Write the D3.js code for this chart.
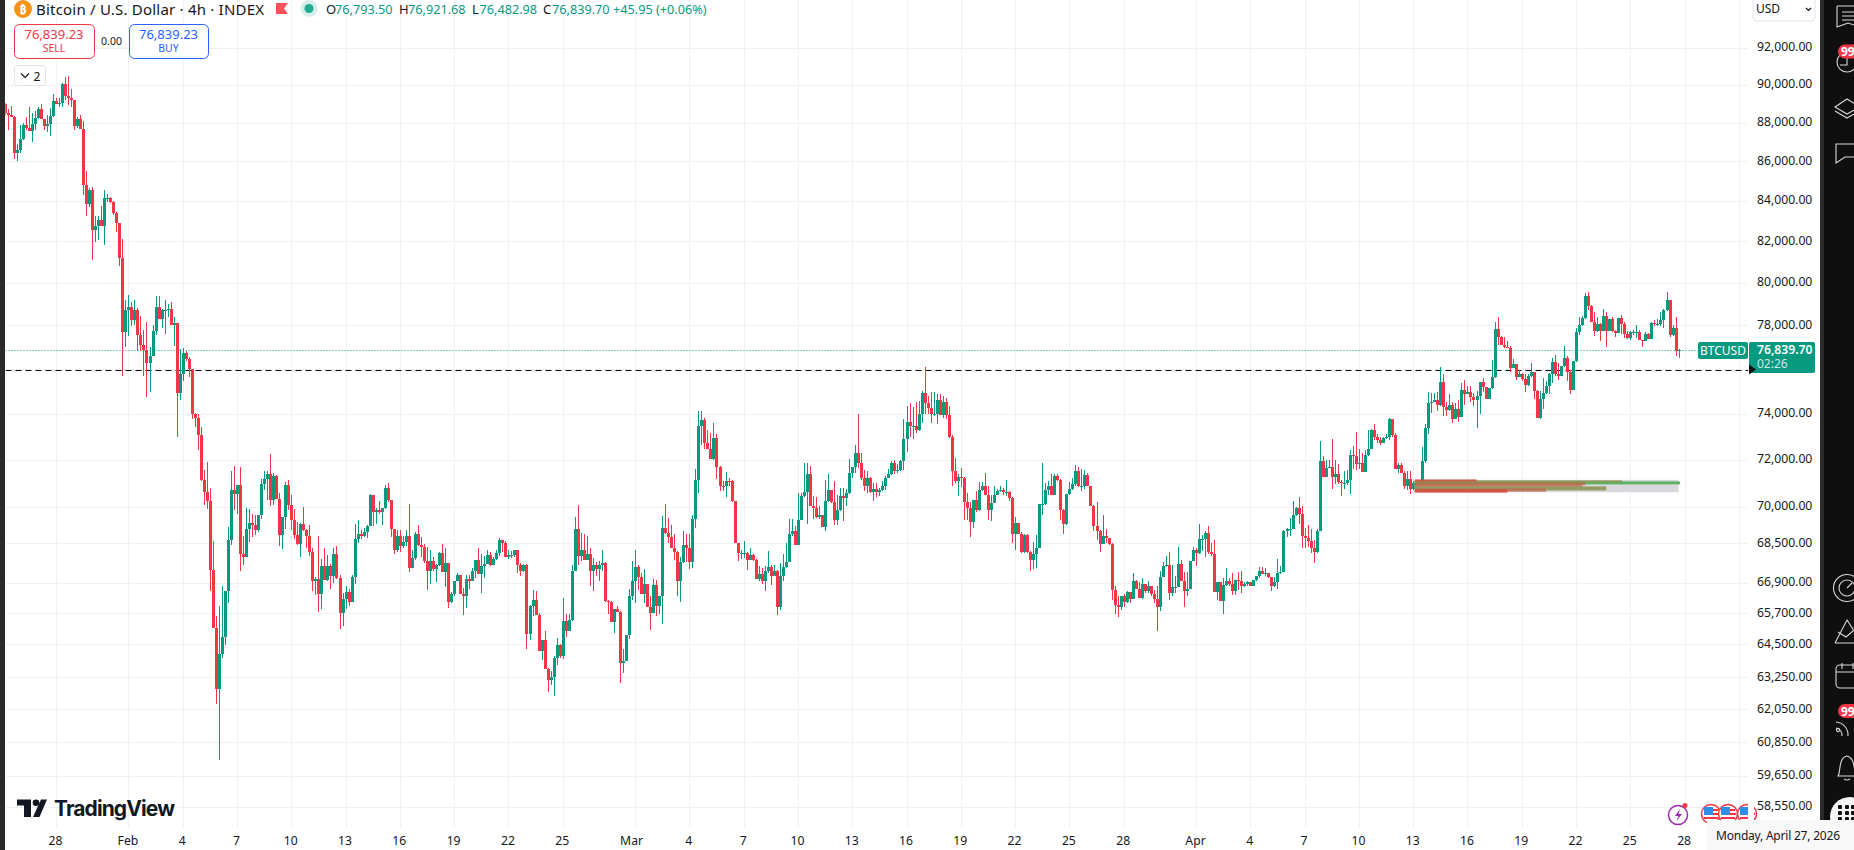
<!DOCTYPE html>
<html><head><meta charset="utf-8">
<script src="https://cdnjs.cloudflare.com/ajax/libs/d3/7.8.5/d3.min.js"></script>
<style>html,body{margin:0;padding:0;background:#fff;overflow:hidden}svg{display:block}text{font-family:"Noto Sans",sans-serif}</style>
</head><body><svg id="c" width="1854" height="850"></svg>
<script>
// ---- data: 4h bars, prices in thousands of USD; each bar opens at the previous close ----
const firstBar = "2026-01-25T04:00:00Z";
const firstOpenK = 89.0;
const closeK = [
88.5,88.4,88.3,86.4,86.6,87.17,87.9,87.7,87.55,87.95,
88.27,88.7,88.18,87.85,87.95,88.34,89.14,89.0,89.05,90.04,
89.4,89.3,89.2,87.85,88.2,87.68,84.8,83.85,84.55,82.55,
82.75,83.05,82.77,84.15,84.15,83.92,83.38,82.9,81.2,77.67,
78.73,78.85,78.25,78.73,77.53,77.1,76.87,76.25,76.6,77.75,
78.85,78.28,78.7,78.73,78.77,78.0,78.1,74.9,75.75,76.7,
76.45,76.0,74.0,73.8,73.05,71.15,70.62,70.24,67.41,65.15,
62.82,64.13,64.8,66.6,68.64,70.73,70.56,70.94,68.07,67.93,
69.1,69.33,69.26,69.06,69.68,70.97,71.18,71.4,70.3,71.32,
70.33,68.85,69.58,70.94,70.1,69.47,68.85,68.47,69.3,69.03,
68.8,68.13,67.0,67.07,66.47,67.6,67.03,67.6,67.17,68.07,
67.1,65.73,66.27,66.54,66.17,67.14,68.68,68.9,68.8,68.95,
69.22,70.52,69.78,69.86,69.78,69.96,70.8,70.28,69.09,68.23,
68.8,68.4,68.54,68.8,67.51,67.9,68.87,68.43,68.37,67.8,
67.37,67.78,67.45,67.62,68.1,67.35,67.7,66.17,66.47,66.99,
67.23,66.47,66.37,67.07,66.97,67.4,67.83,67.27,67.6,67.68,
68.03,67.63,67.86,68.1,68.64,68.5,67.94,68.03,68.03,68.23,
67.63,67.39,67.63,64.9,66.0,66.23,65.63,64.25,64.67,63.57,
63.15,63.25,64.0,64.47,64.07,65.4,65.03,65.44,67.4,69.1,
68.0,68.23,67.83,68.05,67.39,67.63,67.47,67.63,67.7,66.2,
66.17,65.38,65.87,65.77,63.8,63.87,64.87,66.4,67.0,67.54,
67.14,66.47,66.87,65.97,65.73,66.83,66.0,66.4,69.12,68.92,
68.78,68.33,68.17,67.0,67.74,68.43,68.33,67.74,69.5,71.15,
73.47,73.7,72.7,72.47,72.05,72.95,71.7,70.9,70.88,71.1,
71.08,70.25,68.5,68.1,68.1,68.1,67.84,68.03,67.84,67.07,
67.27,67.0,67.37,67.54,67.2,67.37,65.97,67.2,67.54,67.74,
68.87,69.0,68.42,69.47,70.45,70.63,71.4,70.03,69.95,69.57,
69.68,69.17,70.27,70.7,70.2,69.45,69.87,70.48,70.37,70.57,
71.45,71.7,72.27,71.87,71.2,70.9,71.2,70.62,70.77,70.62,
70.7,70.9,71.23,71.37,71.87,71.5,71.57,71.95,72.9,73.63,
73.46,73.46,73.27,74.0,74.9,74.45,74.25,73.97,73.97,74.6,
73.95,74.5,73.93,73.0,71.5,71.1,71.27,71.23,70.2,69.95,
69.37,70.3,69.87,70.73,70.9,70.52,69.87,70.17,70.52,70.67,
70.73,70.63,70.63,70.37,68.9,69.33,68.9,68.17,68.83,68.17,
67.83,68.07,68.33,70.13,70.13,70.7,70.9,70.52,71.3,71.15,
69.87,69.3,70.55,70.77,70.95,71.5,70.88,70.9,71.33,70.88,
70.05,69.23,69.0,68.47,68.8,68.7,68.47,66.63,66.03,65.97,
66.37,66.17,66.53,66.27,67.0,66.67,66.3,66.87,66.57,66.8,
66.47,66.27,65.97,67.13,67.6,67.63,66.5,66.75,66.75,67.67,
66.97,66.6,66.67,67.8,68.23,68.1,68.67,68.67,68.93,68.13,
68.07,66.55,66.93,66.2,66.83,66.97,66.87,66.57,67.03,67.0,
66.8,66.87,66.95,66.8,67.03,67.17,67.4,67.27,67.3,67.13,
66.77,66.95,67.3,67.35,69.0,69.07,69.07,69.65,69.97,69.7,
68.8,68.73,68.6,68.33,68.13,69.0,71.93,71.28,71.65,71.7,
71.28,71.37,71.07,71.0,71.0,71.15,72.2,72.15,71.8,71.87,
71.47,72.2,72.47,73.3,72.97,72.87,72.73,72.95,73.0,73.75,
73.07,71.6,71.77,71.45,70.9,71.16,70.74,71.02,70.76,70.95,
71.93,73.39,74.45,74.52,74.6,74.4,75.4,74.3,74.15,74.4,
73.78,74.22,73.85,75.05,74.85,74.95,74.75,74.6,74.8,75.4,
75.2,74.65,75.13,75.62,77.83,77.45,77.07,77.0,76.97,76.06,
76.2,75.65,75.75,75.53,75.26,75.66,75.88,75.0,73.8,74.65,
74.9,75.23,75.78,76.3,75.75,75.7,76.12,76.5,75.87,75.05,
76.35,77.7,78.0,78.35,79.35,78.9,78.17,77.75,78.05,77.72,
78.45,77.72,78.3,77.75,77.65,78.32,78.05,77.6,77.4,77.68,
77.7,77.7,77.32,77.25,77.6,77.35,78.1,78.05,78.05,78.25,
78.7,79.2,77.55,77.85,76.8,76.84];
const highK = [
89.05,88.7,88.9,88.35,86.9,87.86,88.0,88.3,88.85,88.5,
88.6,88.85,88.96,88.2,88.4,88.77,89.5,89.3,89.3,90.12,
90.4,90.5,89.8,89.2,88.3,88.4,88.1,85.5,84.65,84.7,
83.25,83.25,83.75,84.55,84.35,84.2,84.0,83.45,82.9,82.1,
79.2,79.4,79.1,79.2,78.8,78.43,77.8,78.13,77.0,78.0,
79.35,79.35,78.75,79.2,79.0,79.1,78.4,78.1,76.9,76.95,
76.8,76.55,76.0,74.05,74.0,73.4,71.57,71.9,70.8,68.6,
65.6,66.0,66.8,66.6,69.17,71.5,71.74,70.94,71.69,68.8,
69.96,69.9,69.72,69.65,69.68,71.18,71.53,71.53,72.26,71.44,
71.36,70.6,69.58,71.05,71.13,70.5,69.9,69.37,69.33,70.0,
69.1,69.26,68.3,67.13,68.8,67.87,68.33,68.03,67.67,68.3,
68.4,67.23,66.5,66.8,66.67,67.23,69.3,69.47,69.05,69.14,
69.26,70.56,70.52,69.96,70.27,69.96,70.94,71.0,70.3,69.1,
69.05,69.05,68.8,69.05,70.14,68.23,68.95,69.26,68.78,68.47,
68.37,68.23,67.93,67.66,68.17,68.47,68.33,67.7,66.53,67.0,
67.3,67.23,66.7,67.23,67.23,67.5,67.83,68.33,68.07,68.0,
68.23,68.13,67.94,68.23,68.7,68.64,68.6,68.23,68.2,68.23,
68.23,67.7,67.66,67.66,66.03,66.63,66.57,65.7,64.67,65.03,
63.6,63.47,64.05,64.75,64.5,66.3,65.67,65.67,67.63,69.6,
70.1,68.92,68.9,68.8,68.3,67.9,67.76,67.8,68.23,67.73,
66.23,66.2,65.87,66.0,65.8,64.32,64.87,66.67,67.8,68.23,
67.63,67.3,67.47,66.87,66.4,67.07,67.03,66.4,69.63,70.14,
69.53,69.26,68.9,68.2,67.94,69.0,68.87,68.9,69.68,71.6,
74.1,74.1,73.8,73.3,73.15,73.6,73.1,71.75,71.1,71.47,
71.2,71.13,70.25,68.5,68.25,68.6,68.15,68.3,68.07,67.87,
67.57,67.5,67.57,68.2,67.63,67.63,67.43,67.7,68.07,68.5,
69.5,69.5,69.2,70.6,70.6,71.85,71.85,71.75,70.45,70.4,
70.03,69.68,71.12,71.4,70.7,71.1,70.5,70.8,70.8,70.75,
72.05,71.7,72.65,73.97,72.3,71.57,71.5,71.25,71.0,71.0,
70.8,71.1,71.3,71.6,71.95,72.0,71.8,72.0,73.75,74.35,
74.47,74.3,74.5,74.55,75.0,76.1,74.8,74.95,74.95,74.85,
74.85,74.8,74.7,74.35,73.05,72.06,71.4,71.65,71.27,70.6,
70.2,70.3,70.65,71.05,71.05,71.45,70.9,70.52,70.9,70.75,
70.9,70.8,71.12,70.65,70.4,69.6,69.33,68.97,68.87,68.87,
68.2,68.57,68.83,70.13,71.85,71.0,71.1,71.4,71.4,71.4,
71.17,69.9,70.55,71.05,71.2,71.78,71.7,71.6,71.55,71.45,
70.9,70.1,70.2,69.03,69.65,69.1,68.73,68.5,66.77,66.4,
66.37,66.47,66.57,66.55,67.3,67.03,66.95,67.1,66.87,66.97,
66.8,66.63,66.8,67.4,67.74,68.0,68.15,67.63,67.2,68.37,
67.83,67.33,67.35,67.8,68.37,68.3,69.3,68.84,69.0,69.2,
68.5,68.63,66.93,66.93,67.1,67.5,67.1,67.3,67.03,67.33,
67.37,66.93,67.0,66.95,67.03,67.2,67.55,67.53,67.5,67.3,
67.15,67.15,67.85,67.6,69.03,69.15,69.55,70.25,70.0,70.4,
70.03,69.13,69.27,69.1,68.63,69.07,72.8,72.15,71.97,72.0,
72.9,72.0,71.8,71.13,71.5,71.55,72.4,72.57,73.2,72.45,
72.3,72.4,73.3,73.33,73.53,73.13,72.97,73.0,73.1,73.83,
73.75,73.17,71.85,71.85,71.52,71.52,71.52,71.1,71.0,70.99,
72.55,73.54,74.95,74.9,74.9,74.98,76.1,75.75,74.5,74.85,
74.5,74.45,74.6,75.35,75.5,75.25,75.25,74.9,75.0,75.43,
75.6,75.2,75.13,76.4,78.13,78.37,77.5,77.45,77.25,77.03,
76.43,76.2,75.93,75.83,75.75,75.75,76.27,75.88,75.03,75.0,
75.6,75.45,75.82,76.5,76.63,76.27,76.15,77.05,76.6,75.95,
76.35,77.85,78.4,78.43,79.5,79.55,78.95,78.6,78.37,78.1,
78.75,78.6,78.3,78.4,77.8,78.32,78.5,78.13,77.75,77.75,
77.8,78.0,77.8,77.32,77.68,77.65,78.13,78.25,78.27,78.6,
78.75,79.55,79.2,78.0,78.4,76.92];
const lowK = [
88.4,87.6,88.3,86.1,86.0,86.45,87.1,87.6,87.55,87.0,
87.6,88.2,88.18,87.6,87.5,87.3,88.3,89.0,88.8,88.8,
89.2,88.95,88.8,87.6,87.7,87.68,84.3,83.25,83.7,81.1,
81.97,82.05,82.77,81.8,83.95,83.9,83.3,82.45,80.8,75.68,
77.0,77.5,77.95,78.0,76.8,76.8,75.7,74.75,74.95,76.6,
77.55,78.28,77.87,77.6,78.4,78.0,77.05,73.0,74.6,75.45,
76.35,75.65,73.75,73.4,72.4,71.1,70.1,69.9,66.6,65.15,
62.25,60.21,63.97,64.47,66.1,68.43,69.86,69.7,67.37,67.63,
67.93,68.57,68.78,68.86,68.96,69.5,70.7,70.28,70.03,70.07,
70.33,68.4,68.27,69.1,69.86,69.05,68.68,68.43,67.93,69.0,
68.3,67.97,66.57,66.43,65.77,65.87,67.03,67.0,66.67,66.9,
67.06,65.1,65.2,65.87,66.0,66.17,66.87,68.53,68.67,68.77,
68.72,69.2,69.22,69.3,69.7,69.26,69.9,70.2,68.78,68.07,
68.13,68.17,68.33,68.4,67.33,67.51,67.83,68.4,67.93,67.7,
66.63,66.87,67.4,66.93,67.57,67.35,66.73,65.9,66.13,66.37,
66.97,66.47,65.64,65.9,66.67,66.97,67.1,67.27,66.5,67.1,
67.65,67.57,67.63,67.83,67.97,68.13,67.94,67.86,67.9,67.96,
67.3,67.2,67.36,64.32,64.68,65.6,65.63,64.25,63.9,63.57,
62.7,62.96,62.55,63.72,63.97,63.95,64.8,65.0,65.4,67.37,
67.63,67.77,67.83,67.83,66.8,66.57,67.2,67.0,67.37,66.17,
65.67,65.38,64.95,65.77,63.05,63.42,63.87,64.7,66.23,66.1,
66.63,66.47,66.13,65.97,65.07,65.7,65.6,65.67,65.3,68.9,
68.5,68.33,67.83,66.37,66.17,67.7,67.74,67.47,67.5,69.15,
70.6,72.65,72.47,72.45,72.05,72.0,71.17,70.67,70.67,70.43,
70.9,70.2,68.5,67.77,67.85,67.9,67.43,67.84,67.77,67.05,
66.97,66.87,66.57,67.3,66.83,67.17,65.63,65.83,66.97,67.5,
67.73,68.8,68.42,68.42,69.44,70.43,69.3,70.03,69.5,69.53,
69.5,69.17,69.0,70.22,70.15,69.27,69.27,69.83,69.4,70.05,
70.53,71.2,71.45,71.65,71.15,70.67,70.6,70.6,70.27,70.4,
70.45,70.68,70.7,71.2,71.33,71.4,71.45,71.5,71.55,72.33,
73.0,72.9,73.15,73.25,73.6,74.0,74.0,73.6,73.9,73.55,
73.95,73.8,73.75,72.95,70.9,71.0,70.47,70.85,69.47,69.47,
68.75,69.13,69.8,69.83,70.67,70.5,69.47,69.4,70.15,70.5,
70.63,70.5,70.45,70.25,68.5,68.25,68.9,68.1,68.1,68.1,
67.37,67.47,67.5,68.3,69.67,70.1,70.5,70.5,70.5,71.1,
69.47,68.87,69.27,70.52,70.73,70.9,70.85,70.67,70.77,70.88,
70.05,69.0,68.62,68.13,68.47,68.5,68.43,66.23,65.67,65.55,
65.83,65.95,66.12,66.13,66.25,66.67,66.3,66.27,66.5,66.5,
66.37,66.1,65.0,65.8,67.25,67.55,66.23,66.4,66.5,66.75,
66.97,65.97,66.4,66.67,67.77,67.57,68.07,68.2,67.93,68.07,
68.0,66.55,66.23,66.2,65.67,66.77,66.77,66.43,66.43,66.63,
66.5,66.73,66.8,66.8,66.8,67.0,67.1,67.27,67.2,67.1,
66.6,66.73,66.66,67.25,67.33,68.77,68.8,69.07,69.63,69.3,
68.3,68.3,68.37,68.1,67.7,68.1,69.0,71.25,71.28,71.63,
70.75,70.97,70.97,70.47,70.75,70.93,70.55,71.6,71.57,71.6,
71.47,71.47,72.15,72.47,72.85,72.73,72.65,72.7,72.9,72.87,
73.0,71.6,71.42,71.42,70.75,70.73,70.55,70.72,70.64,70.7,
70.76,71.84,73.1,74.05,74.5,74.1,74.35,73.9,73.9,74.1,
73.57,73.75,73.65,73.85,74.4,74.85,74.53,74.35,73.35,74.0,
74.95,74.63,74.63,75.1,75.6,77.07,77.07,76.93,76.93,75.85,
76.05,75.5,75.65,75.47,74.96,75.22,75.63,74.67,73.8,73.78,
74.2,74.87,74.85,75.37,75.68,75.5,75.68,76.08,75.47,74.87,
75.05,76.33,77.55,77.95,78.3,78.7,78.17,77.5,77.7,77.27,
77.72,77.0,77.72,77.7,77.45,77.62,77.6,77.42,77.35,77.32,
77.55,77.42,77.3,77.0,77.25,77.35,77.35,77.95,77.95,77.95,
77.85,78.67,77.47,77.5,76.58,76.48];

const gridPrices = [92000,90000,88000,86000,84000,82000,80000,78000,76000,74000,72000,70000,68500,66900,65700,64500,63250,62050,60850,59650,58550];
const priceTicks = [92000,90000,88000,86000,84000,82000,80000,78000,74000,72000,70000,68500,66900,65700,64500,63250,62050,60850,59650,58550];
const timeTicks = ["2026-01-28","2026-02-01","2026-02-04","2026-02-07","2026-02-10","2026-02-13","2026-02-16","2026-02-19","2026-02-22","2026-02-25","2026-03-01","2026-03-04","2026-03-07","2026-03-10","2026-03-13","2026-03-16","2026-03-19","2026-03-22","2026-03-25","2026-03-28","2026-04-01","2026-04-04","2026-04-07","2026-04-10","2026-04-13","2026-04-16","2026-04-19","2026-04-22","2026-04-25","2026-04-28","2026-05-01"];
const timeLabels = ["28","Feb","4","7","10","13","16","19","22","25","Mar","4","7","10","13","16","19","22","25","28","Apr","4","7","10","13","16","19","22","25","28",""];
const lastPrice = 76839.70, levelPrice = 75970;

// volume-by-price overlay (fixed range)
const vpStart = "2026-04-13T02:00:00Z";
const vpBand = [71140,70620,"2026-04-27T16:00:00Z"];
const vpTop    = [71160,71120,71075,71035,70950,70865,70780,70725];
const vpBottom = [71075,71035,70950,70910,70840,70695,70640,70600];
const vpEnd    = ["2026-04-16T12:00:00Z","2026-04-24T13:00:00Z","2026-04-27T18:00:00Z","2026-04-22T12:00:00Z","2026-04-22T08:00:00Z","2026-04-23T16:00:00Z","2026-04-20T08:00:00Z","2026-04-18T05:00:00Z"];
const vpKind   = ["down","mix","up","brown","brown","mix","brown","down"];

const legendO="76,793.50", legendH="76,921.68", legendL="76,482.98", legendC="76,839.70", legendChg="+45.95 (+0.06%)";

// ---- scales ----
const UP="#089981", DOWN="#F23645", GRID="#f0f1f3", INK="#131722";
const plotL=5.5, plotR=1748, plotB=828;
const y=d3.scaleLog().domain([92000,58550]).range([48,807]);
const x=d3.scaleUtc().domain([new Date("2026-02-01T00:00:00Z"),new Date("2026-04-28T00:00:00Z")]).range([128.4,1684.6]);
const t0=+new Date(firstBar), STEP=4*3600*1000;
const bars=closeK.map((c,i)=>({t:new Date(t0+i*STEP),o:(i?closeK[i-1]:firstOpenK)*1000,c:c*1000,h:highK[i]*1000,l:lowK[i]*1000}));

const svg=d3.select("#c");
svg.append("defs").append("clipPath").attr("id","plot").append("rect").attr("x",plotL).attr("y",0).attr("width",plotR-plotL).attr("height",plotB);

// grid, via axes
const tickDates=timeTicks.map(d=>new Date(d+"T00:00:00Z"));
const gx=svg.append("g").attr("transform",`translate(0,${plotB})`)
  .call(d3.axisBottom(x).tickValues(tickDates).tickSize(-plotB).tickFormat(""));
gx.select(".domain").remove(); gx.selectAll("line").attr("stroke",GRID).attr("shape-rendering","crispEdges");
const gy=svg.append("g").attr("transform",`translate(${plotL},0)`)
  .call(d3.axisRight(y).tickValues(gridPrices).tickSize(plotR-plotL).tickFormat(""));
gy.select(".domain").remove(); gy.selectAll("line").attr("stroke",GRID).attr("shape-rendering","crispEdges");

const plot=svg.append("g").attr("clip-path","url(#plot)");
// level lines
plot.append("line").attr("x1",plotL).attr("x2",plotR).attr("y1",Math.round(y(levelPrice))+.5).attr("y2",Math.round(y(levelPrice))+.5).attr("stroke","#000").attr("stroke-width",1).attr("stroke-dasharray","6,4");
plot.append("line").attr("x1",plotL).attr("x2",1698).attr("y1",Math.round(y(lastPrice))+.5).attr("y2",Math.round(y(lastPrice))+.5).attr("stroke",UP).attr("stroke-width",1).attr("stroke-dasharray","1,2");

// candles
const col=d=>d.c>=d.o?UP:DOWN;
const cg=plot.append("g").attr("shape-rendering","crispEdges");
cg.selectAll("rect.w").data(bars).join("rect").attr("class","w")
  .attr("x",d=>Math.round(x(d.t))).attr("width",1)
  .attr("y",d=>y(Math.max(d.h,d.o,d.c))).attr("height",d=>y(Math.min(d.l,d.o,d.c))-y(Math.max(d.h,d.o,d.c)))
  .attr("fill",col);
cg.selectAll("rect.b").data(bars).join("rect").attr("class","b")
  .attr("x",d=>Math.round(x(d.t))-1).attr("width",3)
  .attr("y",d=>y(Math.max(d.o,d.c))).attr("height",d=>Math.max(1,y(Math.min(d.o,d.c))-y(Math.max(d.o,d.c))))
  .attr("fill",col);

// volume profile
const vpX=x(new Date(vpStart));
const vpFill={down:"rgba(214,70,60,.85)",brown:"rgba(196,98,70,.72)",mix:"rgba(140,150,85,.9)",up:"rgba(86,176,92,.95)"};
const vg=plot.append("g");
vg.append("rect").attr("x",vpX).attr("y",y(vpBand[0])).attr("width",x(new Date(vpBand[2]))-vpX).attr("height",y(vpBand[1])-y(vpBand[0])).attr("fill","rgba(205,207,213,.8)");
const vpRows=vpTop.map((v,i)=>({top:v,bot:vpBottom[i],end:new Date(vpEnd[i]),k:vpKind[i]}));
const vpOrder=[2,1,0,3,4,5,6,7];
vg.selectAll("rect.v").data(vpOrder.map(i=>vpRows[i])).join("rect").attr("class","v")
  .attr("x",vpX).attr("y",d=>y(d.top)).attr("width",d=>x(d.end)-vpX).attr("height",d=>y(d.bot)-y(d.top))
  .attr("fill",d=>vpFill[d.k]);

// strips and sidebar
svg.append("rect").attr("x",0).attr("y",0).attr("width",5).attr("height",850).attr("fill","#2a2a2a");
svg.append("rect").attr("x",1820).attr("y",0).attr("width",34).attr("height",850).attr("fill","#0f0f0f");
svg.append("rect").attr("x",1820).attr("y",0).attr("width",4).attr("height",850).attr("fill","#2a2a2a");

// price axis
const ay=svg.append("g").attr("transform","translate(1757,-1)")
  .call(d3.axisRight(y).tickValues(priceTicks).tickSize(0).tickPadding(0).tickFormat(d3.format(",.2f")));
ay.select(".domain").remove();
ay.selectAll("text").attr("font-size",12.2).attr("fill",INK).style("font-family",'"Noto Sans",sans-serif');
// time axis
const ax=svg.append("g").attr("transform","translate(0,836)")
  .call(d3.axisBottom(x).tickValues(tickDates).tickSize(0).tickPadding(0).tickFormat((d,i)=>timeLabels[i]));
ax.select(".domain").remove();
ax.selectAll("text").attr("font-size",12.2).attr("fill",INK).style("font-family",'"Noto Sans",sans-serif')
  .attr("dx",(d,i)=>timeLabels[i]==="Mar"?-4:-1);

function txt(s,px,py,size,fill,o={}){return svg.append("text").text(s).attr("x",px).attr("y",py).attr("font-size",size).attr("fill",fill).attr("text-anchor",o.a||"start").attr("font-weight",o.w||400).attr("dominant-baseline","central");}

// header
svg.append("circle").attr("cx",23).attr("cy",9).attr("r",9).attr("fill","#f7931a");
txt("₿",23,9,12,"#fff",{a:"middle",w:700});
txt("Bitcoin / U.S. Dollar · 4h · INDEX",36,9,15,INK).attr("textLength",228);
svg.append("path").attr("d","M276 3H288L284 8.5L288 14H276Z").attr("fill","#F9525A");
svg.append("circle").attr("cx",309).attr("cy",8.5).attr("r",8.5).attr("fill","#d5eee9");
svg.append("circle").attr("cx",309).attr("cy",8.5).attr("r",4.5).attr("fill","#22ab94");
[["O",326,legendO,335],["H",399,legendH,408],["L",472,legendL,479.5],["C",543,legendC,552]].forEach(r=>{
  txt(r[0],r[1],9,13,INK); txt(r[2],r[3],9,12.7,UP);
});
txt(legendChg,613,9,12.7,UP);

// trade boxes
function box(x0,w,c,lab){svg.append("rect").attr("x",x0+.5).attr("y",24.5).attr("width",w).attr("height",34).attr("rx",5).attr("fill","#fff").attr("stroke",c);
 txt("76,839.23",x0+w/2,34,13,c,{a:"middle"}); txt(lab,x0+w/2,48,10.5,c,{a:"middle"});}
box(14,80,DOWN,"SELL"); box(129,79,"#2962FF","BUY");
txt("0.00",111.5,41,10.5,INK,{a:"middle"});
svg.append("rect").attr("x",14.5).attr("y",65.5).attr("width",31).attr("height",20).attr("rx",3).attr("fill","#fff").attr("stroke","#e0e3eb");
svg.append("path").attr("d","M21 73.5L25 77.5L29 73.5").attr("fill","none").attr("stroke",INK).attr("stroke-width",1.2);
txt("2",37,76,12,INK,{a:"middle"});

// logo
const logo=svg.append("g").attr("fill",INK);
logo.append("path").attr("d","M17 799.5H31V817H24V805.5H17Z");
logo.append("circle").attr("cx",36).attr("cy",802.8).attr("r",3.3);
logo.append("path").attr("d","M41 799.5H47L39.5 817H33Z");
svg.append("text").text("TradingView").attr("x",54).attr("y",816).attr("font-size",21).attr("font-weight",700).attr("fill",INK).attr("textLength",121).style("font-family","Inter,sans-serif");

// USD box
svg.append("path").attr("d","M1753 0V17a4 4 0 0 0 4 4H1811a4 4 0 0 0 4-4V0").attr("fill","#fff").attr("stroke","#e0e3eb");
txt("USD",1756,8.5,12,INK);
svg.append("path").attr("d","M1806 8L1808.5 10.5L1811 8").attr("fill","none").attr("stroke",INK).attr("stroke-width",1.2);

// price labels
svg.append("rect").attr("x",1698).attr("y",342).attr("width",50).attr("height",17).attr("rx",2).attr("fill",UP);
txt("BTCUSD",1723,350.5,12,"#fff",{a:"middle"});
svg.append("rect").attr("x",1749).attr("y",342).attr("width",66).attr("height",31).attr("rx",2).attr("fill",UP);
txt("76,839.70",1757,349.5,12.2,"#fff",{w:600});
txt("02:26",1757,363.5,12,"rgba(255,255,255,.8)");
svg.append("path").attr("d",`M1749 ${y(levelPrice)-5}L1756 ${y(levelPrice)}L1749 ${y(levelPrice)+5}Z`).attr("fill","#111");

// bottom icons
const ev=svg.append("g");
ev.append("circle").attr("cx",1678).attr("cy",815).attr("r",9.5).attr("fill","#fff").attr("stroke","#9c27b0").attr("stroke-width",1.5);
ev.append("path").attr("d","M1680 809L1675 816H1678.5L1676.5 821L1682 814H1678.5Z").attr("fill","#9c27b0");
ev.append("circle").attr("cx",1685).attr("cy",805.5).attr("r",2.5).attr("fill",DOWN);
[1711,1728,1747].forEach(cx=>{
  const g=svg.append("g");
  g.append("circle").attr("cx",cx).attr("cy",814).attr("r",9.5).attr("fill","#fff").attr("stroke",DOWN).attr("stroke-width",1.5);
  g.append("rect").attr("x",cx-7).attr("y",807).attr("width",9).attr("height",8).attr("fill","#2f8fe6");
  g.append("rect").attr("x",cx+2).attr("y",809).attr("width",5).attr("height",2).attr("fill",DOWN);
  g.append("rect").attr("x",cx+2).attr("y",813).attr("width",6).attr("height",2).attr("fill",DOWN);
  g.append("rect").attr("x",cx-7).attr("y",817).attr("width",14).attr("height",2).attr("fill",DOWN);
});
svg.append("rect").attr("x",1748).attr("y",802).attr("width",6).attr("height",24).attr("fill","#fff");

// sidebar icons
const si=svg.append("g").attr("fill","none").attr("stroke","#d8d8d8").attr("stroke-width",1.1);
si.append("path").attr("d","M1837 6H1860M1837 6V27L1848 23L1860 27M1842 12H1860M1842 16H1860M1842 20H1860");
si.append("circle").attr("cx",1847).attr("cy",62).attr("r",10);
si.append("path").attr("d","M1847 57V65H1840");
si.append("path").attr("d","M1835 107L1847 99L1860 107L1847 114ZM1835 111L1847 118L1860 111");
si.append("path").attr("d","M1860 144H1836V163L1845 157H1860");
si.append("circle").attr("cx",1847).attr("cy",588).attr("r",13.5);
si.append("circle").attr("cx",1847).attr("cy",588).attr("r",8);
si.append("path").attr("d","M1847 588L1852 583");
si.append("path").attr("d","M1835 643L1847 620L1860 640M1835 643H1860M1838 632L1846 637L1853 631");
si.append("path").attr("d","M1860 665H1840a4 4 0 0 0-4 4V684a4 4 0 0 0 4 4H1860M1836 672H1860M1842 663V669M1853 663V669");
si.append("path").attr("d","M1836 722a13 13 0 0 1 12 14M1836 728a7 7 0 0 1 6 8");
si.append("circle").attr("cx",1838).attr("cy",730).attr("r",1.6);
si.append("path").attr("d","M1838 776C1841 772 1838 758 1847 756C1856 758 1853 772 1857 776ZM1844 779Q1847 781 1850 779");
function badge(y0){svg.append("path").attr("d",`M1854 ${y0}H1845a7 7 0 0 0 0 14H1854Z`).attr("fill",DOWN);
  txt("99",1841,y0+7,12,"#fff",{w:700});}
badge(44.5); badge(704);
svg.append("circle").attr("cx",1850).attr("cy",817).attr("r",20).attr("fill","#f4f4f4");
const dots=svg.append("g").attr("fill","#111");
[1840,1847,1853].forEach(a=>[807,813,819].forEach(b=>dots.append("rect").attr("x",a-2).attr("y",b-2).attr("width",4).attr("height",4).attr("rx",1)));

// date tooltip
svg.append("rect").attr("x",1707).attr("y",820).attr("width",147).attr("height",30).attr("fill","#f8f8f9");
txt("Monday, April 27, 2026",1716,835,12,INK).attr("textLength",124);
</script></body></html>
